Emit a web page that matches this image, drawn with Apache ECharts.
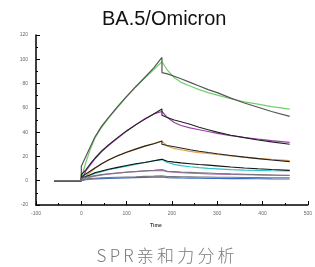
<!DOCTYPE html>
<html>
<head>
<meta charset="utf-8">
<script src="https://cdn.jsdelivr.net/npm/echarts@6/dist/echarts.min.js"></script>
<style>
html, body { margin: 0; padding: 0; background: #fff; }
#main { width: 315px; height: 267px; }
</style>
</head>
<body>
<div id="main"></div>
<script>
// time points (s) shared by every curve; 0 and 178 appear twice for the jumps
var times = [-60, 0, 0, 10, 20, 30, 45, 60, 80, 100, 120, 140, 160, 178, 178,
    190, 205, 220, 240, 260, 280, 300, 330, 360, 390, 420, 460];

// measured response (RU)
var greenData  = [0, 0, 2, 15, 26, 35, 44, 51.5, 60.5, 69, 77, 84.5, 91.5, 98, 98, 91, 85, 81, 78, 75, 72.5, 70.5, 67.5, 65, 63, 61, 59];
var purpleData = [0, 0, 1, 8, 13, 18, 24, 29, 35, 41, 46, 51, 55, 57, 57, 52, 48, 45.5, 43.5, 42, 40.5, 39, 37.2, 35.6, 34.2, 33, 31.5];
var orangeData = [0, 0, 1, 4, 7, 10, 14, 17, 20.5, 23.5, 26, 28.5, 30.5, 32.5, 32.5, 28.5, 26.5, 25.5, 24.2, 23.2, 22.4, 21.6, 20.5, 19.4, 18.4, 17.5, 16.5];
var cyanData   = [0, 0, 1, 3, 4.5, 6, 7.5, 9, 10.5, 12, 13.5, 15, 16.3, 17.5, 17.5, 15, 13.5, 12.5, 11.5, 10.8, 10.2, 9.8, 9.2, 8.8, 8.5, 8.2, 8];
var pinkData   = [0, 0, 0.5, 2, 3, 3.8, 4.8, 5.5, 6.3, 7, 7.5, 8, 8.3, 8.5, 8.5, 7.5, 7, 6.7, 6.3, 6, 5.7, 5.5, 5.2, 5, 4.8, 4.6, 4.5];
var blueData   = [0, 0, 0, 0.8, 1.2, 1.5, 1.8, 2, 2.2, 2.4, 2.6, 2.8, 3, 3.1, 3.1, 2.6, 2.4, 2.3, 2.2, 2.1, 2, 1.9, 1.8, 1.7, 1.6, 1.5, 1.4];

// fitted curves
var greenFit  = [0, 0, 12, 20, 28, 36, 45, 52, 61, 69.5, 77.5, 85, 93, 101.5, 89, 88, 86, 84, 81, 78, 75, 72.5, 68, 64, 60.5, 57, 53];
var purpleFit = [0, 0, 5, 9, 14, 18.5, 24.5, 29.5, 35.5, 41, 46, 50.5, 55, 59, 54, 52, 50, 48.5, 46.5, 44, 42, 40, 37.5, 35.5, 33.5, 32, 30];
var orangeFit = [0, 0, 3, 5.5, 8, 10.5, 14, 17, 20.5, 23.5, 26, 28.5, 30.5, 32.7, 30, 29, 28, 27, 25.5, 24.3, 23.2, 22.2, 20.8, 19.4, 18.2, 17, 15.7];
var cyanFit   = [0, 0, 2, 3.5, 5, 6.5, 8, 9.5, 11, 12.5, 14, 15, 16.5, 17.6, 16.5, 16, 15.3, 14.7, 14, 13.3, 12.8, 12.2, 11.3, 10.5, 9.8, 9.2, 8.5];
var pinkFit   = [0, 0, 2, 2.8, 3.5, 4.2, 5, 5.7, 6.4, 7, 7.6, 8.1, 8.6, 9.2, 8, 7.8, 7.5, 7.2, 6.9, 6.6, 6.3, 6, 5.6, 5.3, 5, 4.7, 4.3];
var blueFit   = [0, 0, 1, 1.4, 1.7, 2, 2.3, 2.6, 2.9, 3.1, 3.3, 3.6, 3.8, 4, 3.6, 3.5, 3.4, 3.3, 3.2, 3.1, 3, 2.9, 2.8, 2.7, 2.6, 2.5, 2.4];

var caption = 'SPR亲和力分析';

function pairs(vals) {
    var out = [];
    for (var i = 0; i < times.length; i++) {
        out.push([times[i], vals[i]]);
    }
    return out;
}

function curve(vals, color, width) {
    return {
        type: 'line',
        data: pairs(vals),
        showSymbol: false,
        silent: true,
        lineStyle: { color: color, width: width },
        animation: false
    };
}

// caption is letter-spaced in the picture, so each char gets a bit of padding
function spaced(str) {
    return str.split('').map(function (c) { return '{c|' + c + '}'; }).join('');
}

var myChart = echarts.init(document.getElementById('main'));

var axisLabel = { fontSize: 5, color: '#666', fontFamily: 'Liberation Sans' };

var option = {
    backgroundColor: '#fff',
    animation: false,
    title: [{
        text: 'BA.5/Omicron',
        left: 97,
        top: 4,
        textStyle: { fontSize: 20, fontWeight: 'normal', color: '#111', fontFamily: 'Liberation Sans' }
    }, {
        text: spaced(caption),
        left: 90,
        top: 242,
        textStyle: {
            rich: {
                c: { fontSize: 17, color: '#7a7a7a', fontFamily: 'Noto Sans CJK SC', fontWeight: 300, padding: [0, 1.6, 0, 1.6] }
            }
        }
    }],
    grid: { left: 36, right: 3, top: 35, bottom: 62 },
    xAxis: {
        type: 'value',
        min: -100,
        max: 500,
        interval: 100,
        name: 'Time',
        nameLocation: 'middle',
        nameGap: 18,
        nameTextStyle: { fontSize: 5, fontWeight: 'bold', color: '#444', padding: [0, 32, 0, 0] },
        axisLine: { onZero: false, lineStyle: { color: '#000', width: 1.5 } },
        axisTick: { inside: true, length: 4, lineStyle: { color: '#000' } },
        minorTick: { show: true, splitNumber: 2, length: 2, lineStyle: { color: '#000' } },
        axisLabel: Object.assign({ margin: 6 }, axisLabel),
        splitLine: { show: false }
    },
    yAxis: {
        type: 'value',
        min: -20,
        max: 120,
        interval: 20,
        axisLine: { show: true, onZero: false, lineStyle: { color: '#000', width: 1.5 } },
        axisTick: { show: true, inside: true, length: 4, lineStyle: { color: '#000' } },
        minorTick: { show: true, splitNumber: 2, length: 2, lineStyle: { color: '#000' } },
        axisLabel: Object.assign({ margin: 8 }, axisLabel),
        splitLine: { show: false }
    },
    series: [
        curve(greenData, '#72cf6c', 1.2),
        curve(purpleData, '#9a3fa8', 1.2),
        curve(orangeData, '#e3a348', 1.2),
        curve(cyanData, '#2fc2c6', 1.2),
        curve(pinkData, '#b070b8', 1.2),
        curve(blueData, '#3d6cc6', 1.2),
        curve(greenFit, '#555', 1.2),
        curve(purpleFit, '#222', 1.1),
        curve(orangeFit, '#222', 1.1),
        curve(cyanFit, '#111', 1.1),
        curve(pinkFit, '#777', 1.1),
        curve(blueFit, '#777', 1.1)
    ]
};

myChart.setOption(option);
</script>
</body>
</html>
